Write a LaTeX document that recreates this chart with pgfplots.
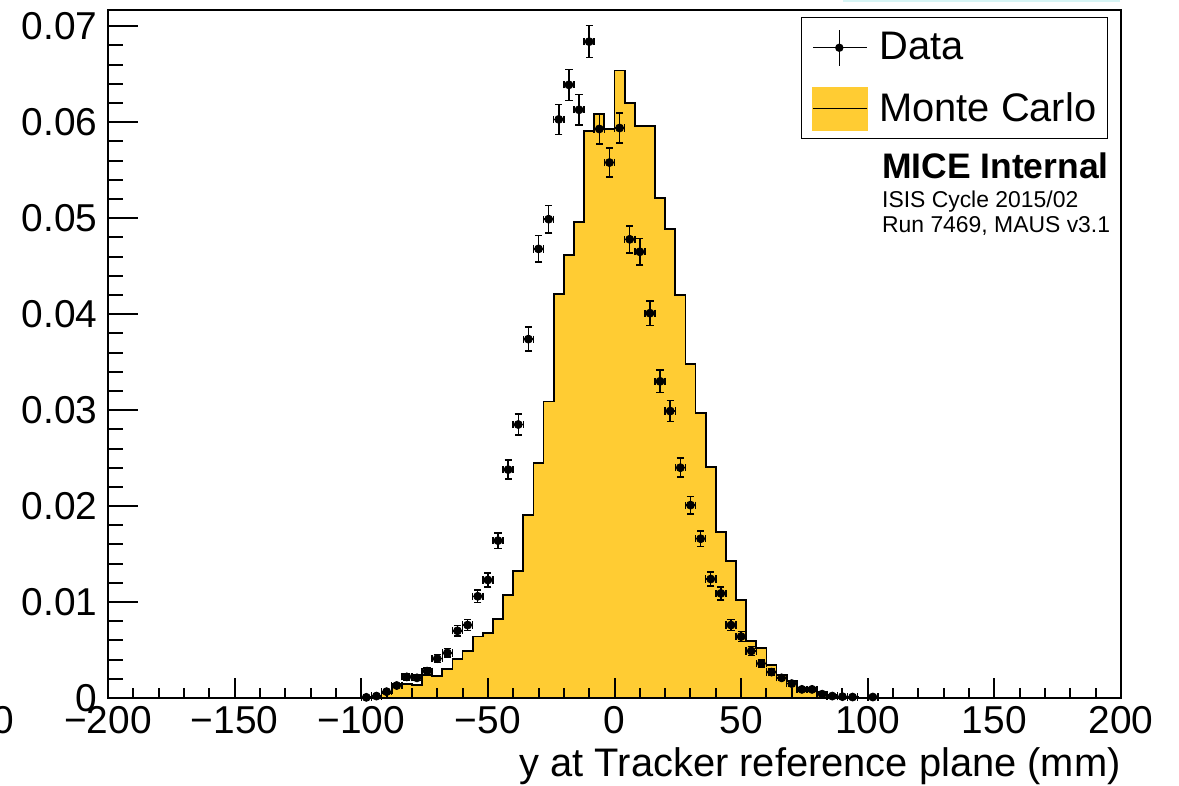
\documentclass[border=0pt]{standalone}
\usepackage{fontspec}
\setmainfont{Liberation Sans}
\usepackage{pgfplots}
\pgfplotsset{compat=1.18}
\usepackage{pgfplotstable}
\definecolor{mcyellow}{RGB}{255,204,51}
\definecolor{edgecyan}{RGB}{215,245,245}

% Data: bin centre, normalised count, stat. error
\pgfplotstableread{
x y ey
-98 0.00007 0.000054
-94 0.0002 0.00009
-90 0.00066 0.000165
-86 0.0013 0.00023
-82 0.0022 0.0003
-78 0.0021 0.00029
-74 0.0028 0.00034
-70 0.0041 0.00041
-66 0.0047 0.00044
-62 0.0070 0.00054
-58 0.0076 0.00056
-54 0.0106 0.00066
-50 0.0123 0.00071
-46 0.0164 0.00082
-42 0.0238 0.00099
-38 0.0285 0.00108
-34 0.0374 0.00124
-30 0.0468 0.00138
-26 0.0499 0.00143
-22 0.0603 0.00157
-18 0.0639 0.00162
-14 0.0613 0.00158
-10 0.0684 0.00167
-6 0.0593 0.00156
-2 0.0558 0.00151
2 0.0594 0.00156
6 0.0478 0.0014
10 0.0465 0.00138
14 0.0401 0.00128
18 0.0330 0.00116
22 0.0299 0.00111
26 0.0240 0.00099
30 0.0201 0.00091
34 0.0166 0.00082
38 0.0124 0.00071
42 0.0109 0.00067
46 0.0076 0.00056
50 0.0064 0.00051
54 0.0049 0.00045
58 0.0036 0.00038
62 0.0027 0.00033
66 0.0021 0.00029
70 0.0015 0.00025
74 0.0009 0.00019
78 0.0009 0.00019
82 0.0004 0.00013
86 0.0002 0.00009
90 0.00014 0.000076
94 0.0001 0.000064
102 0.0001 0.000064
}\datatab

% Monte Carlo: bin left edge, normalised content (4 mm bins)
\pgfplotstableread{
x y
-100 0
-96 0.0001
-92 0.0005
-88 0.00146
-84 0.0015
-80 0.00135
-76 0.0024
-72 0.0023
-68 0.0030
-64 0.0041
-60 0.0049
-56 0.0064
-52 0.0068
-48 0.0082
-44 0.0107
-40 0.0132
-36 0.0191
-32 0.0245
-28 0.0309
-24 0.0421
-20 0.0462
-16 0.0496
-12 0.0591
-8 0.0609
-4 0.0593
0 0.0654
4 0.0620
8 0.0596
12 0.0596
16 0.0521
20 0.0489
24 0.0420
28 0.0348
32 0.0297
36 0.0241
40 0.0173
44 0.0143
48 0.0102
52 0.0059
56 0.0052
60 0.0034
64 0.0024
68 0.0018
72 0.0011
76 0.0010
80 0.00066
84 0.0003
88 0.0001
92 0.0001
96 0
100 0
}\mctab

\begin{document}
\begin{tikzpicture}
\pgfplotsset{rootframe/.style={
    scale only axis, width=506.5bp, height=344bp,
    xmin=-200, xmax=200, ymin=0, ymax=0.0717,
    axis line style={line width=1bp},
    every tick/.style={black, line width=1bp},
    tick align=inside,
    xtick pos=bottom, ytick pos=left,
    ticklabel style={font=\fontsize{19.5}{23}\selectfont, inner sep=0pt},
}}
\begin{axis}[
    rootframe, name=ax,
    axis on top, clip=false,
    xtick=\empty,
    ytick={0,0.01,0.02,0.03,0.04,0.05,0.06,0.07},
    yticklabels={0,0.01,0.02,0.03,0.04,0.05,0.06,0.07},
    minor y tick num=4,
    major tick length=15bp, minor tick length=7.5bp,
    yticklabel style={xshift=-5bp},
    legend cell align=left,
    legend style={at={(rel axis cs:0.9872,0.9898)}, anchor=north east,
        draw=black, line width=0.75bp, fill=white,
        inner xsep=5.5bp, inner ysep=0pt, row sep=0.5bp,
        nodes={inner sep=0pt, minimum height=30bp, anchor=west,
               font=\fontsize{20}{24}\selectfont},
        /tikz/every odd column/.append style={column sep=5.5bp}},
]
\addlegendimage{legend image code/.code={
    \draw[black, line width=0.75bp] (0bp,0bp) -- (27bp,0bp);
    \draw[black, line width=0.75bp] (13bp,-9bp) -- (13bp,9bp);
    \fill[black] (13bp,0bp) circle (1.7bp);}}
\addlegendentry{Data}

\addplot[const plot mark left, fill=mcyellow, draw=black, line width=0.9bp,
    legend image code/.code={
    \fill[mcyellow] (0bp,-10.5bp) rectangle (27bp,10.5bp);
    \draw[black, line width=0.75bp] (0bp,0bp) -- (27bp,0bp);}]
    table[x=x, y=y] {\mctab} \closedcycle;
\addlegendentry{Monte Carlo}

\addplot[forget plot, only marks, mark=*, mark size=2bp, black,
    error bars/.cd, x dir=both, x fixed=2, y dir=both, y explicit,
    error bar style={line width=0.75bp, black},
    error mark=-,
    error mark options={rotate=90, black, line width=0.75bp, mark size=1.8bp}]
    table[x=x, y=y, y error=ey] {\datatab};

\node[anchor=base west, inner sep=0pt, font=\bfseries\fontsize{17.8}{20}\selectfont]
    at (rel axis cs:0.7638,0.7544) {MICE Internal};
\node[anchor=base west, inner sep=0pt, font=\fontsize{11.5}{13}\selectfont]
    at (rel axis cs:0.7638,0.7122) {ISIS Cycle 2015/02};
\node[anchor=base west, inner sep=0pt, font=\fontsize{11.5}{13}\selectfont]
    at (rel axis cs:0.7638,0.6773) {Run 7469, MAUS v3.1};
\node[anchor=north east, inner sep=0pt, font=\fontsize{19.5}{23}\selectfont]
    at (rel axis cs:0,0) [xshift=-46.5bp, yshift=-4bp] {0};
\end{axis}

% second frame: x ticks are shorter than y ticks in the original
\begin{axis}[
    rootframe,
    ytick=\empty,
    xtick={-200,-150,-100,-50,0,50,100,150,200},
    xticklabels={−200,−150,−100,−50,0,50,100,150,200},
    minor x tick num=4,
    major tick length=10bp, minor tick length=5bp,
    xticklabel style={yshift=-4bp},
    xlabel={y at Tracker reference plane (mm)},
    xlabel style={at={(rel axis cs:1,0)}, anchor=base east, yshift=-39bp,
        inner sep=0pt, font=\fontsize{20}{24}\selectfont},
]
\end{axis}

\draw[edgecyan, line width=1bp] ([xshift=367.5bp, yshift=4.5bp]ax.north west)
    -- ([xshift=506bp, yshift=4.5bp]ax.north west);
\pgfresetboundingbox
\path ([xshift=-54bp,yshift=-44bp]ax.south west) rectangle ([xshift=29bp,yshift=5bp]ax.north east);
\end{tikzpicture}
\end{document}
